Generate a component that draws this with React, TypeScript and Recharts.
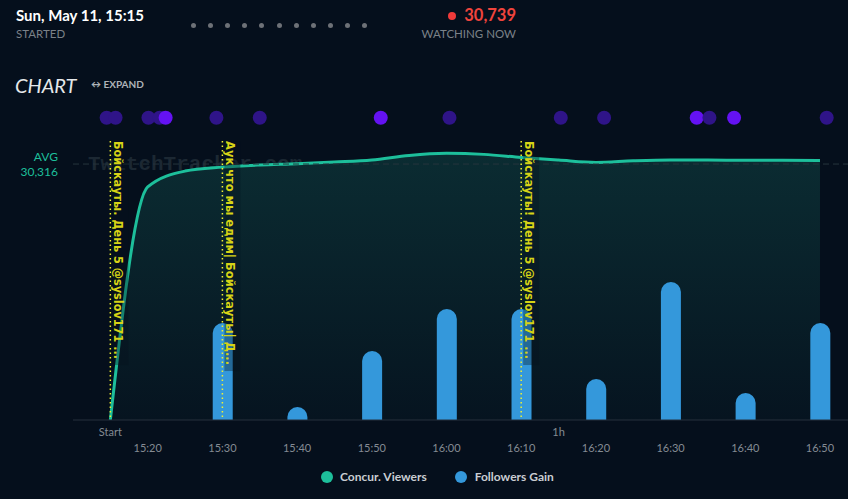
import React from 'react';
import { ComposedChart, Area, Bar, Scatter, XAxis, YAxis, ReferenceLine } from 'recharts';

const minutes = [0, 5, 10, 15, 20, 25, 30, 35, 40, 45, 50, 55, 60, 65, 70, 75, 80, 85, 90, 95];
const viewers = [0, 27600, 29480, 29950, 30200, 30350, 30550, 30790, 31340, 31580, 31460, 31100, 30790, 30510, 30700, 30800, 30780, 30770, 30760, 30739];
const barMinutes = [15, 25, 35, 45, 55, 65, 75, 85, 95];
const followers = [97, 13, 69, 111, 111, 41, 138, 27, 97];
const tickMinutes = [0, 5, 15, 25, 35, 45, 55, 60, 65, 75, 85, 95];
const tickLabels = ['Start', '15:20', '15:30', '15:40', '15:50', '16:00', '16:10', '1h', '16:20', '16:30', '16:40', '16:50'];
const eventMinutes = [-0.5, 0.7, 5.1, 6.6, 7.4, 14.2, 20.0, 36.2, 45.4, 60.3, 66.1, 78.5, 80.2, 83.5, 95.9];
const eventBright = [false, false, false, false, true, false, false, true, false, false, false, true, false, true, false];
const annotationMinutes = [0, 15, 55];
const annotationTitles = [
  'Бойскауты. День 5 @syslov171 ...',
  'Аук что мы едим| Бойскауты| Д...',
  'Бойскауты! День 5 @syslov171 ...',
];
const annotationLengths = [218, 224, 218];
const AVG_VIEWERS = 30316;
const CURRENT_VIEWERS = '30,739';
const STARTED = 'Sun, May 11, 15:15';

const VIEWER_MAX = 37900;
const EVENT_LEVEL = 35800;
const ANNOT_TOP = 33040;
const X_DOMAIN: [number, number] = [-5, 98.75];

const rows = minutes.map((m, i) => {
  const bi = barMinutes.indexOf(m);
  return { minute: m, viewers: viewers[i], followers: bi >= 0 ? followers[bi] : null };
});
const eventRows = eventMinutes.map((m, i) => ({ minute: m, level: EVENT_LEVEL, bright: eventBright[i] }));

const BG = '#050f1c';
const TEAL = '#1dbf9b';
const BLUE = '#3498db';

const renderTick = (props: any) => {
  const { x, y, payload } = props;
  const i = tickMinutes.indexOf(payload.value);
  const label = tickLabels[i];
  const row1 = payload.value === 0 || payload.value === 60;
  return (
    <text x={x} y={y + (row1 ? 16 : 32)} textAnchor="middle" fill="#848b93" fontSize={11} fontFamily="Lato">
      {label}
    </text>
  );
};

const barShape = (props: any) => {
  const { x, y, width, height, fill } = props;
  if (!height || height <= 0) return <g />;
  const r = width / 2;
  let d: string;
  if (height >= r) {
    d = `M${x},${y + height} L${x},${y + r} A${r},${r} 0 0 1 ${x + width},${y + r} L${x + width},${y + height} Z`;
  } else {
    const hw = Math.sqrt(r * r - (r - height) * (r - height));
    d = `M${x + r - hw},${y + height} A${r},${r} 0 0 1 ${x + r + hw},${y + height} Z`;
  }
  return <path d={d} fill={fill} />;
};

const makeAnnotLabel = (idx: number) => (props: any) => {
  const vb = props.viewBox || {};
  const x = vb.x;
  const y = vb.y;
  const len = annotationLengths[idx];
  return (
    <g>
      <rect x={x + 2} y={y} width={16} height={len + 6} fill="#06121e" opacity={0.35} />
      <text
        x={x + 4}
        y={y}
        transform={`rotate(90, ${x + 4}, ${y})`}
        fill="#d6d316"
        fontSize={13}
        fontWeight="bold"
        fontFamily="DejaVu Sans"
        textLength={len}
        lengthAdjust="spacingAndGlyphs"
      >
        {annotationTitles[idx]}
      </text>
    </g>
  );
};

const avgLabel = (props: any) => {
  const vb = props.viewBox || {};
  return (
    <g>
      <text x={vb.x - 15} y={vb.y - 3} textAnchor="end" fill={TEAL} fontSize={12} fontFamily="Lato">AVG</text>
      <text x={vb.x - 15} y={vb.y + 12} textAnchor="end" fill={TEAL} fontSize={12} fontFamily="Lato">
        {AVG_VIEWERS.toLocaleString('en-US')}
      </text>
    </g>
  );
};

const eventShape = (props: any) => (
  <circle cx={props.cx} cy={props.cy} r={7} fill={props.payload.bright ? '#6412f2' : '#2f1488'} />
);

export default function App() {
  const headerDots = Array.from({ length: 11 }, (_, i) => i);
  return (
    <div style={{ position: 'absolute', left: 0, top: 0, width: 848, height: 499, background: BG, overflow: 'hidden', fontFamily: 'Lato' }}>
      <div style={{ position: 'absolute', left: 16, top: 6, color: '#ffffff', fontSize: 15, fontWeight: 'bold' }}>{STARTED}</div>
      <div style={{ position: 'absolute', left: 16, top: 27, color: '#7b8188', fontSize: 11.5 }}>STARTED</div>
      {headerDots.map((i) => (
        <div key={i} style={{ position: 'absolute', left: 191 + i * 17.1, top: 23, width: 5, height: 5, borderRadius: 3, background: '#6d7177' }} />
      ))}
      <div style={{ position: 'absolute', left: 448, top: 12, width: 8, height: 8, borderRadius: 4, background: '#f03a3a' }} />
      <div style={{ position: 'absolute', right: 332, top: 5, color: '#f0443c', fontSize: 16.5, fontWeight: 'bold' }}>{CURRENT_VIEWERS}</div>
      <div style={{ position: 'absolute', right: 332, top: 27, color: '#7b8188', fontSize: 11.5 }}>WATCHING NOW</div>
      <div style={{ position: 'absolute', left: 15, top: 73, color: '#e6e8ea', fontSize: 20, fontStyle: 'italic' }}>CHART</div>
      <div style={{ position: 'absolute', left: 91, top: 78, color: '#aeb3b8', fontSize: 10, fontWeight: 'bold' }}>↔ EXPAND</div>

      <div style={{ position: 'absolute', left: 0, top: 0 }}>
        <ComposedChart width={848} height={499} data={rows} margin={{ top: 100, right: 0, bottom: 39, left: 73 }}>
          <defs>
            <linearGradient id="vgrad" x1="0" y1="0" x2="0" y2="1">
              <stop offset="0%" stopColor="#0b2c32" stopOpacity={1} />
              <stop offset="100%" stopColor="#061420" stopOpacity={1} />
            </linearGradient>
          </defs>
          <XAxis
            dataKey="minute"
            type="number"
            domain={X_DOMAIN}
            allowDataOverflow
            ticks={tickMinutes}
            tick={renderTick}
            tickLine={false}
            tickSize={0}
            tickMargin={0}
            height={40}
            stroke="#26313d"
            interval={0}
          />
          <XAxis xAxisId="e" dataKey="minute" type="number" domain={X_DOMAIN} allowDataOverflow hide />
          <YAxis yAxisId="v" hide domain={[0, VIEWER_MAX]} allowDataOverflow />
          <YAxis yAxisId="f" hide domain={[0, 320]} allowDataOverflow />
          <text x={88} y={170} fill="#1c2833" fontSize={21} fontWeight="bold" fontFamily="Liberation Mono">TwitchTracker.com</text>
          <ReferenceLine yAxisId="v" y={AVG_VIEWERS} stroke="#26343c" strokeDasharray="6 4" label={avgLabel} />
          <Area
            yAxisId="v"
            type="monotone"
            dataKey="viewers"
            stroke={TEAL}
            strokeWidth={3}
            fill="url(#vgrad)"
            fillOpacity={1}
            isAnimationActive={false}
            dot={false}
            activeDot={false}
          />
          <Bar yAxisId="f" dataKey="followers" fill={BLUE} barSize={20} shape={barShape} isAnimationActive={false} />
          {annotationMinutes.map((m, i) => (
            <ReferenceLine
              key={i}
              yAxisId="v"
              segment={[{ x: m, y: ANNOT_TOP }, { x: m, y: 0 }]}
              stroke="#f2f230"
              strokeWidth={1.5}
              strokeDasharray="1.5 3"
              label={makeAnnotLabel(i)}
            />
          ))}
          <Scatter xAxisId="e" yAxisId="v" data={eventRows} dataKey="level" shape={eventShape} isAnimationActive={false} />
        </ComposedChart>
      </div>

      <div style={{ position: 'absolute', left: 321, top: 469, display: 'flex', alignItems: 'center', fontSize: 12, fontWeight: 'bold', color: '#c9cdd2' }}>
        <span style={{ width: 12, height: 12, borderRadius: 6, background: TEAL, display: 'inline-block', marginRight: 7 }} />
        <span>Concur. Viewers</span>
        <span style={{ width: 12, height: 12, borderRadius: 6, background: BLUE, display: 'inline-block', marginLeft: 28, marginRight: 8 }} />
        <span>Followers Gain</span>
      </div>
    </div>
  );
}
